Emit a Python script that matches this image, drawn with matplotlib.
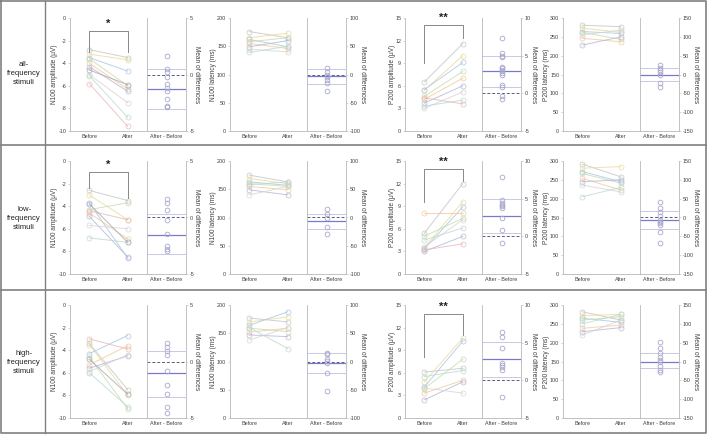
import matplotlib
matplotlib.use("Agg")
import matplotlib.pyplot as plt
from matplotlib.lines import Line2D
import numpy as np

plt.rcParams['axes.unicode_minus'] = False
plt.rcParams['font.family'] = ['Liberation Sans', 'DejaVu Sans']

# rows: all / low / high frequency stimuli
row_labels = ["all-\nfrequency\nstimuli", "low-\nfrequency\nstimuli", "high-\nfrequency\nstimuli"]
measure_labels = ["N100 amplitude (\u03bcV)", "N100 latency (ms)", "P200 amplitude (\u03bcV)", "P200 latency (ms)"]
group_ticks = ["Before", "After"]
diff_tick = "After - Before"

# --- N100 amplitude ---
n100_amp_before = [
    [-2.8, -3.2, -3.5, -3.6, -4.0, -4.3, -5.0, -5.1, -5.8, -4.6],
    [-2.6, -3.0, -3.7, -4.3, -4.6, -4.9, -5.7, -6.8, -4.4, -3.8],
    [-3.4, -3.5, -4.3, -4.6, -5.3, -5.6, -5.9, -6.0, -3.0, -4.8],
]
n100_amp_after = [
    [-3.5, -3.7, -4.7, -6.0, -6.3, -6.5, -7.5, -8.8, -9.6, -5.9],
    [-3.5, -5.2, -8.6, -3.7, -6.9, -8.5, -6.0, -7.2, -5.2, -7.2],
    [-7.5, -8.0, -2.7, -9.2, -3.6, -4.5, -4.4, -9.0, -3.9, -7.9],
]
n100_amp_diff = [
    [1.6, 0.5, 0.2, -0.2, -0.8, -1.5, -2.2, -2.9, -2.8, -1.2],
    [1.6, 1.3, 0.7, -0.2, -1.5, -2.5, -2.8, -3.0],
    [1.6, 1.3, 0.9, 0.6, -0.8, -2.1, -2.9, -4.0, -4.6],
]
n100_amp_stats = [(-1.28, -3.05, 0.46), (-1.55, -3.2, 0.3), (-1.05, -3.1, 0.9)]  # mean, low, high

# --- N100 latency ---
n100_lat_before = [
    [176, 165, 162, 158, 155, 149, 145, 139],
    [175, 169, 163, 160, 155, 149, 140, 158],
    [177, 170, 164, 159, 152, 147, 138, 160],
]
n100_lat_after = [
    [165, 173, 149, 165, 146, 160, 140, 150],
    [163, 160, 157, 155, 149, 140, 155, 163],
    [170, 179, 188, 153, 159, 144, 160, 123],
]
n100_lat_diff = [
    [11, 5, -1, -5, -10, -15, -30],
    [14.5, 6.2, -1.4, -17.3, -29.7],
    [14.5, 12.8, 5, 0.4, -2.4, -21, -52],
]
n100_lat_stats = [(-3, -16, 9), (-7, -21, 6), (-2, -21, 15.6)]

# --- P200 amplitude ---
p200_amp_before = [
    [6.5, 5.4, 5.5, 4.6, 4.2, 3.7, 3.0, 3.3, 4.4],
    [5.4, 3.5, 3.3, 5.0, 8.1, 3.0, 3.6, 4.5, 3.2],
    [6.1, 4.8, 4.1, 3.9, 3.3, 2.4, 4.0, 5.5],
]
p200_amp_after = [
    [11.6, 10.0, 9.1, 7.9, 7.0, 6.0, 5.2, 4.1, 3.6],
    [12.0, 9.6, 8.9, 7.4, 8.1, 5.0, 7.2, 6.1, 4.0],
    [6.6, 10.6, 10.2, 7.8, 5.0, 4.8, 3.3, 6.3],
]
p200_amp_diff = [
    [7.3, 5.3, 5.0, 4.8, 3.5, 3.3, 3.1, 2.9, 2.7, 2.4, 1.1, 0.8, -0.4, -0.8],
    [7.9, 4.8, 4.4, 4.2, 4.0, 3.8, 2.4, 0.9, -0.9],
    [6.4, 5.8, 4.3, 2.3, 2.0, 1.8, 1.4, -2.2],
]
p200_amp_stats = [(2.9, 0.8, 5.0), (2.7, 0.5, 4.9), (2.8, 0.5, 5.1)]

# --- P200 latency ---
p200_lat_before = [
    [281, 273, 264, 262, 246, 228, 255],
    [292, 281, 272, 267, 254, 245, 236, 205],
    [282, 272, 265, 260, 238, 229, 220, 250],
]
p200_lat_after = [
    [277, 262, 259, 243, 237, 250, 268],
    [258, 285, 245, 241, 223, 250, 218, 230],
    [260, 275, 254, 269, 247, 240, 260, 275],
]
p200_lat_diff = [
    [25, 16, 12, 7.5, -1, -23, -32],
    [42, 24, 15, 4, -7, -11, -15, -20, -38, -67],
    [53, 35, 22, 13, 4, 0, -13, -22, -28],
]
p200_lat_stats = [(-1.3, -17, 16), (-7, -31, 17), (-0.5, -18, 22)]

# axis ranges and ticks
main_ylim = [(-10, 0), (0, 200), (0, 15), (0, 300)]
main_yticks = [np.arange(-10, 1, 2), np.arange(0, 201, 50), np.arange(0, 16, 3), np.arange(0, 301, 50)]
diff_ylim = [(-5, 5), (-100, 100), (-5, 10), (-150, 150)]
diff_yticks = [[-5, 0, 5], [-100, -50, 0, 50, 100], [-5, 0, 5, 10], [-150, -100, -50, 0, 50, 100, 150]]

# significance brackets: (row, measure, text, top, left leg end, right leg end)
sig_marks = [
    (0, 0, "*", -1.15, -3.0, -3.0),
    (1, 0, "*", -0.95, -2.4, -3.3),
    (0, 2, "**", 14.1, 9.0, 12.4),
    (1, 2, "**", 13.9, 9.6, 12.3),
    (2, 2, "**", 13.8, 8.1, 11.0),
]

befores = [n100_amp_before, n100_lat_before, p200_amp_before, p200_lat_before]
afters = [n100_amp_after, n100_lat_after, p200_amp_after, p200_lat_after]
diffs = [n100_amp_diff, n100_lat_diff, p200_amp_diff, p200_lat_diff]
stats = [n100_amp_stats, n100_lat_stats, p200_amp_stats, p200_lat_stats]

subj_colors = ['#c4c4c4', '#e8dc9a', '#a9c6e4', '#c6dcae', '#f2c99a',
               '#b6b6d8', '#d5d5d5', '#bcd9cf', '#e6b8b8', '#a8a8b4']

W, H = 708, 436
fig = plt.figure(figsize=(W / 100, H / 100), dpi=100)

def px(x, ytop, w, h):
    return [x / W, 1 - (ytop + h) / H, w / W, h / H]

main_x = [70, 230, 405, 563]
main_w = 77
diff_w = 39
row_top = [18, 161, 305]
ax_h = 113
# label offsets from the axis line, in pixels
main_lab_off = [-15, -16.5, -12, -16.5]
diff_lab_off = [10.5, 16.5, 12, 16.5]
axis_grey = '#b8b8b8'
tick_kw = dict(labelsize=3.9, length=1.5, width=0.4, color=axis_grey, labelcolor='#404040', pad=1.2)

for r in range(3):
    for m in range(4):
        ax = fig.add_axes(px(main_x[m], row_top[r], main_w, ax_h))
        for i, (b, a) in enumerate(zip(befores[m][r], afters[m][r])):
            c = subj_colors[i % len(subj_colors)]
            ax.plot([1, 2], [b, a], color=c, lw=0.7, marker='o', ms=3.6,
                    mfc='none', mec=c, mew=0.6, alpha=0.8)
        ax.set_xlim(0.5, 2.5)
        ax.set_ylim(*main_ylim[m])
        ax.set_yticks(main_yticks[m])
        ax.set_xticks([1, 2])
        ax.set_xticklabels(group_ticks)
        ax.tick_params(**tick_kw)
        ax.tick_params(axis='x', length=0, pad=2)
        for s in ['top', 'right']:
            ax.spines[s].set_visible(False)
        for s in ['left', 'bottom']:
            ax.spines[s].set_color(axis_grey)
            ax.spines[s].set_linewidth(0.6)
        ax.set_ylabel(measure_labels[m], fontsize=4.7, color='#404040', va='center')
        ax.yaxis.set_label_coords(main_lab_off[m] / main_w, 0.5)

        # difference panel
        dx = fig.add_axes(px(main_x[m] + main_w, row_top[r], diff_w, ax_h))
        mean_d, lo_d, hi_d = stats[m][r]
        dx.axhline(hi_d, color='#c9c9e6', lw=0.7)
        dx.axhline(lo_d, color='#c9c9e6', lw=0.7)
        dx.axhline(0, color='#5a5a7a', lw=0.7, ls=(0, (3, 2)))
        dx.axhline(mean_d, color='#7878cc', lw=0.9)
        dx.plot(np.zeros(len(diffs[m][r])), diffs[m][r], 'o', ms=3.4,
                mfc='none', mec='#a8a8cc', mew=0.6)
        dx.set_xlim(-1, 1)
        dx.set_ylim(*diff_ylim[m])
        dx.set_yticks(diff_yticks[m])
        dx.set_xticks([0])
        dx.set_xticklabels([diff_tick])
        dx.yaxis.tick_right()
        dx.yaxis.set_label_position('right')
        dx.tick_params(**tick_kw)
        dx.tick_params(axis='x', length=0, pad=2)
        dx.spines['top'].set_visible(False)
        for s in ['left', 'right', 'bottom']:
            dx.spines[s].set_color(axis_grey)
            dx.spines[s].set_linewidth(0.6)
        dx.set_ylabel("Mean of differences", fontsize=4.7, color='#404040',
                      rotation=270, va='center')
        dx.yaxis.set_label_coords(1 + diff_lab_off[m] / diff_w, 0.5)

        for (rr, mm, txt, top, lleg, rleg) in sig_marks:
            if rr == r and mm == m:
                ax.plot([1, 1, 2, 2], [lleg, top, top, rleg], color='#888888', lw=0.7)
                span = main_ylim[m][1] - main_ylim[m][0]
                ax.text(1.5, top + span * 0.02, txt, ha='center', va='bottom',
                        fontsize=8, fontweight='bold', color='#222222')

# table frame and row labels
frame_c = '#808080'
fig.add_artist(Line2D([1 / W, 706 / W, 706 / W, 1 / W, 1 / W],
                      [1 - 1 / H, 1 - 1 / H, 1 - 433 / H, 1 - 433 / H, 1 - 1 / H],
                      color=frame_c, lw=1.2))
fig.add_artist(Line2D([45 / W, 45 / W], [1 - 1 / H, 1 - 433 / H], color=frame_c, lw=1.0))
for yline in [145, 290]:
    fig.add_artist(Line2D([1 / W, 706 / W], [1 - yline / H, 1 - yline / H], color=frame_c, lw=1.2))

row_centers = [73, 218, 362]
for lab, yc in zip(row_labels, row_centers):
    fig.text(24 / W, 1 - yc / H, lab, ha='center', va='center', fontsize=5.5,
             color='#222222', linespacing=1.4)

fig.savefig("out.png", dpi=100)
plt.close(fig)
